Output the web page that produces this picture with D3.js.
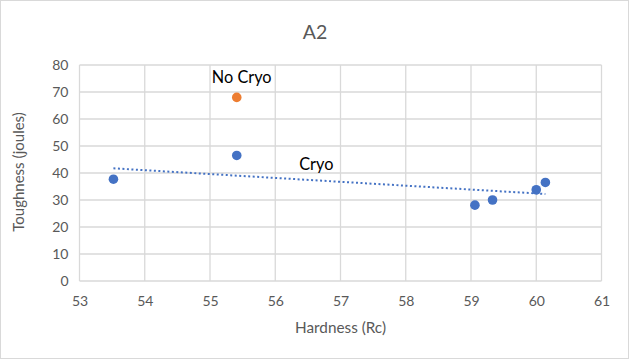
<!DOCTYPE html>
<html><head><meta charset="utf-8">
<script src="https://cdn.jsdelivr.net/npm/d3@7"></script>
<style>body{margin:0;background:#fff}svg{display:block}text{font-family:Lato,"Open Sans",sans-serif}</style>
</head><body><svg id="c" width="629" height="359"></svg>
<script>
const title = "A2";
const xLabel = "Hardness (Rc)";
const yLabel = "Toughness (joules)";
const cryoX = [53.52, 55.41, 59.06, 59.33, 60.0, 60.14];
const cryoY = [37.7, 46.5, 28.1, 30.0, 33.8, 36.5];
const noCryoX = [55.41];
const noCryoY = [68.0];
const xTicks = [53, 54, 55, 56, 57, 58, 59, 60, 61];
const yTicks = [0, 10, 20, 30, 40, 50, 60, 70, 80];

const svg = d3.select("#c");
svg.append("rect").attr("x",0.5).attr("y",0.5).attr("width",628).attr("height",358)
  .attr("fill","#fff").attr("stroke","#d9d9d9");
const m = {l:79.5, r:601.5, t:65, b:281};
const x = d3.scaleLinear().domain([53,61]).range([m.l,m.r]);
const y = d3.scaleLinear().domain([0,80]).range([m.b,m.t]);

const g = svg.append("g");
g.selectAll(".vg").data(xTicks).join("line").attr("x1",d=>x(d)).attr("x2",d=>x(d))
  .attr("y1",m.t).attr("y2",m.b).attr("stroke","#d9d9d9").attr("stroke-width",1.3);
g.selectAll(".hg").data(yTicks).join("line").attr("y1",d=>y(d)).attr("y2",d=>y(d))
  .attr("x1",m.l).attr("x2",m.r).attr("stroke","#d9d9d9").attr("stroke-width",1.3);

const xa = svg.append("g").attr("transform",`translate(0,${m.b})`)
  .call(d3.axisBottom(x).tickValues(xTicks).tickSize(0).tickPadding(15));
xa.select(".domain").remove();
xa.selectAll("text").attr("fill","#595959").attr("font-size",14).attr("font-family","Lato");
const ya = svg.append("g").attr("transform",`translate(${m.l},0)`)
  .call(d3.axisLeft(y).tickValues(yTicks).tickSize(0).tickPadding(11));
ya.select(".domain").remove();
ya.selectAll("text").attr("fill","#595959").attr("font-size",14).attr("font-family","Lato");

// trendline (least squares on Cryo series)
const n = cryoX.length, mx = d3.mean(cryoX), my = d3.mean(cryoY);
let sxy=0, sxx=0;
for (let i=0;i<n;i++){ sxy+=(cryoX[i]-mx)*(cryoY[i]-my); sxx+=(cryoX[i]-mx)**2; }
const slope = sxy/sxx, icpt = my - slope*mx;
const x0 = d3.min(cryoX), x1 = d3.max(cryoX);
svg.append("line").attr("x1",x(x0)).attr("x2",x(x1))
  .attr("y1",y(icpt+slope*x0)).attr("y2",y(icpt+slope*x1))
  .attr("stroke","#4472c4").attr("stroke-width",2).attr("stroke-dasharray","2 2.5");

svg.selectAll(".c").data(d3.range(n)).join("circle")
  .attr("cx",i=>x(cryoX[i])).attr("cy",i=>y(cryoY[i])).attr("r",4.8).attr("fill","#4472c4");
svg.selectAll(".nc").data(d3.range(noCryoX.length)).join("circle")
  .attr("cx",i=>x(noCryoX[i])).attr("cy",i=>y(noCryoY[i])).attr("r",4.8).attr("fill","#ed7d31");

svg.append("text").attr("x",241.7).attr("y",77.5).attr("dy","0.35em").attr("text-anchor","middle")
  .attr("font-size",16.3).attr("fill","#000").text("No Cryo");
svg.append("text").attr("x",316.3).attr("y",164).attr("dy","0.35em").attr("text-anchor","middle")
  .attr("font-size",16.3).attr("fill","#000").text("Cryo");

svg.append("text").attr("x",315).attr("y",32).attr("dy","0.35em").attr("text-anchor","middle")
  .attr("font-size",19.5).attr("fill","#595959").text(title);
svg.append("text").attr("x",340.5).attr("y",328).attr("dy","0.35em").attr("text-anchor","middle")
  .attr("font-size",15.3).attr("fill","#595959").text(xLabel);
svg.append("text").attr("transform",`translate(19,172) rotate(-90)`).attr("dy","0.35em")
  .attr("text-anchor","middle").attr("font-size",15).attr("fill","#595959").text(yLabel);
</script></body></html>
